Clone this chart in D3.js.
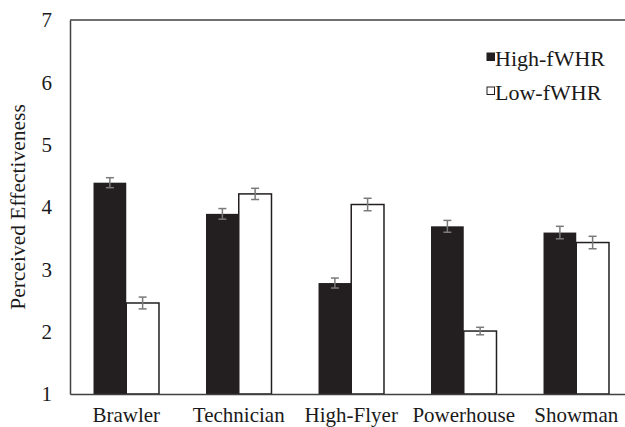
<!DOCTYPE html>
<html><head><meta charset="utf-8">
<script src="https://cdn.jsdelivr.net/npm/d3@7"></script>
<style>body{margin:0;background:#fff}svg{display:block}svg text{font-family:"Liberation Serif",serif !important;fill:#1a1a1a}</style>
</head><body>
<script>
const categories = ["Brawler","Technician","High-Flyer","Powerhouse","Showman"];
const seriesNames = ["High-fWHR","Low-fWHR"];
const highValues = [4.39, 3.89, 2.78, 3.69, 3.59];
const highErrors = [0.08, 0.085, 0.08, 0.095, 0.1];
const lowValues = [2.46, 4.21, 4.04, 2.01, 3.43];
const lowErrors = [0.095, 0.09, 0.1, 0.06, 0.1];
const yTicks = [1,2,3,4,5,6,7];

const W=625,H=427;
const m={left:70,top:20,right:-7.5,bottom:33};
const svg=d3.select("body").append("svg").attr("width",W).attr("height",H).attr("font-family","Liberation Serif");
const x0=d3.scaleBand().domain(categories).range([m.left,W-m.right]).paddingInner(0.418).paddingOuter(0.209);
const x1=d3.scaleBand().domain(seriesNames).range([0,x0.bandwidth()]);
const y=d3.scaleLinear().domain([1,7]).range([H-m.bottom,m.top]);

const data=categories.map((c,i)=>({c,vals:[{s:seriesNames[0],v:highValues[i],e:highErrors[i]},{s:seriesNames[1],v:lowValues[i],e:lowErrors[i]}]}));

// top border
svg.append("line").attr("x1",m.left).attr("x2",W).attr("y1",y(7)).attr("y2",y(7)).attr("stroke","#404040").attr("stroke-width",1.5);

const g=svg.selectAll("g.grp").data(data).join("g").attr("class","grp").attr("transform",d=>`translate(${x0(d.c)},0)`);
g.selectAll("rect").data(d=>d.vals).join("rect")
  .attr("x",d=>x1(d.s)).attr("width",x1.bandwidth())
  .attr("y",d=>y(d.v)).attr("height",d=>y(1)-y(d.v))
  .attr("fill",d=>d.s===seriesNames[0]?"#231f20":"#fff")
  .attr("stroke",d=>d.s===seriesNames[0]?"none":"#231f20").attr("stroke-width",1.5);
// error bars
const eb=g.selectAll("g.eb").data(d=>d.vals).join("g").attr("class","eb")
  .attr("stroke","#7a7a7a").attr("stroke-width",1.5);
eb.append("line").attr("x1",d=>x1(d.s)+x1.bandwidth()/2).attr("x2",d=>x1(d.s)+x1.bandwidth()/2)
  .attr("y1",d=>y(d.v+d.e)).attr("y2",d=>y(d.v-d.e));
eb.append("line").attr("x1",d=>x1(d.s)+x1.bandwidth()/2-4).attr("x2",d=>x1(d.s)+x1.bandwidth()/2+4)
  .attr("y1",d=>y(d.v+d.e)).attr("y2",d=>y(d.v+d.e));
eb.append("line").attr("x1",d=>x1(d.s)+x1.bandwidth()/2-4).attr("x2",d=>x1(d.s)+x1.bandwidth()/2+4)
  .attr("y1",d=>y(d.v-d.e)).attr("y2",d=>y(d.v-d.e));

// axes
const ya=svg.append("g").attr("transform",`translate(${m.left},0)`)
  .call(d3.axisLeft(y).tickValues(yTicks).tickFormat(d3.format("d")).tickSize(0).tickPadding(18));
ya.attr("font-family","Liberation Serif").attr("font-size",21);
ya.select(".domain").attr("stroke","#404040").attr("stroke-width",1.5);
const xa=svg.append("g").attr("transform",`translate(0,${y(1)})`)
  .call(d3.axisBottom(x0).tickSize(0).tickPadding(13));
xa.attr("font-family","Liberation Serif").attr("font-size",21);
xa.select(".domain").attr("stroke","#404040").attr("stroke-width",1.5);

svg.append("text").attr("transform",`translate(25,${(y(1)+y(7))/2}) rotate(-90)`)
  .attr("text-anchor","middle").attr("font-size",21.5).text("Perceived Effectiveness");

// legend
const lg=svg.append("g").selectAll("g").data(seriesNames).join("g")
  .attr("transform",(d,i)=>`translate(487,${53+i*34})`);
lg.append("rect").attr("width",7.5).attr("height",7.5)
  .attr("fill",(d,i)=>i===0?"#231f20":"#fff").attr("stroke","#231f20").attr("stroke-width",1);
lg.append("text").attr("x",8).attr("y",13).attr("font-size",22).text(d=>d);
</script>
</body></html>
